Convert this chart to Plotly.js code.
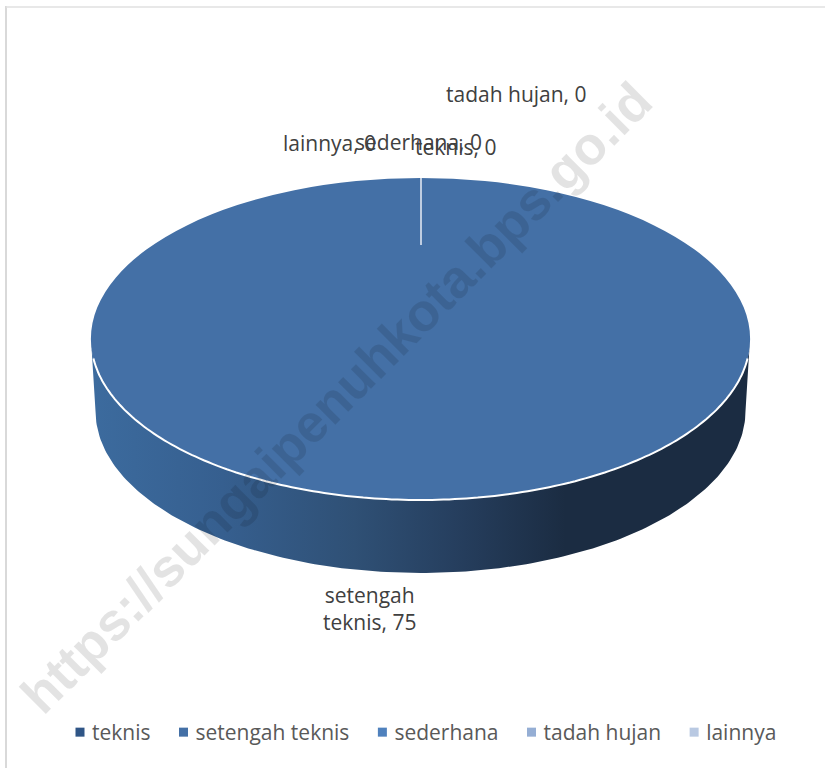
<!DOCTYPE html>
<html><head><meta charset="utf-8">
<script src="https://cdn.plot.ly/plotly-3.0.1.min.js"></script>
<style>html,body{margin:0;padding:0;background:#fff}#c{width:825px;height:768px}</style>
</head><body><div id="c"></div>
<script>
const categories = ['teknis','setengah teknis','sederhana','tadah hujan','lainnya'];
const values = [0,75,0,0,0];
const sliceColors = ['#2f5586','#4470a6','#4f81bd','#95aed4','#b9c9e2'];
const watermark = 'https://sungaipenuhkota.bps.go.id';

// geometry of the tilted disc, in pixels
const W=825,H=768, cx=420.5, cy=339, rx=329.5, ry=161, botCy=411, botRx=325, botRy=162;
const k=ry/rx;

const wallX=[],wallY=[];
for(let i=0;i<=180;i++){const t=i*Math.PI/180;wallX.push(cx+rx*Math.cos(t));wallY.push(cy+ry*Math.sin(t));}
for(let i=180;i>=0;i--){const t=i*Math.PI/180;wallX.push(cx+botRx*Math.cos(t));wallY.push(botCy+botRy*Math.sin(t));}
wallX.push(wallX[0]);wallY.push(wallY[0]);

const wall={type:'scatter',mode:'lines',x:wallX,y:wallY,fill:'toself',line:{width:0,color:'#1b2c42'},
  fillgradient:{type:'horizontal',start:91,stop:750,
    colorscale:[[0,'#3c6b9e'],[0.2,'#365f8f'],[0.4,'#2f5075'],[0.55,'#263f5f'],[0.72,'#1b2c42'],[1,'#1b2c42']]},
  showlegend:false,hoverinfo:'skip'};

const pie={type:'pie',labels:categories,values:values,sort:false,direction:'clockwise',
  marker:{colors:sliceColors,line:{width:0}},textinfo:'none',hoverinfo:'label+value',
  domain:{x:[(cx-rx)/W,(cx+rx)/W],y:[1-(cy+rx)/H,1-(cy-rx)/H]},automargin:false};

const rimPts=[];
for(let d=7;d<=173;d+=1){const t=d*Math.PI/180;rimPts.push((rimPts.length?'L':'M')+(cx+rx*Math.cos(t)).toFixed(1)+','+(cy+ry*Math.sin(t)).toFixed(1));}

const lab=(i)=>categories[i]+', '+values[i];
const ann=(text,x,y,extra)=>Object.assign({xref:'x',yref:'y',x:x,y:y,text:text,showarrow:false,
  font:{family:'Open Sans',size:21,color:'#404040'}},extra||{});

const layout={width:W,height:H,margin:{l:0,r:0,t:0,b:0},paper_bgcolor:'#fff',plot_bgcolor:'rgba(0,0,0,0)',
  xaxis:{visible:false,range:[0,W],fixedrange:true},yaxis:{visible:false,range:[H,0],fixedrange:true},
  legend:{orientation:'h',x:60/W,xanchor:'left',y:1-712/H,yanchor:'top',font:{family:'Open Sans',size:21,color:'#595959'},bgcolor:'rgba(0,0,0,0)'},
  shapes:[
    {type:'line',xref:'x',yref:'y',x0:6,x1:6,y0:6,y1:H,line:{color:'#d9d9d9',width:2},layer:'above'},
    {type:'line',xref:'x',yref:'y',x0:6,x1:W,y0:7,y1:7,line:{color:'#e0e0e0',width:1.5},layer:'above'},
    {type:'path',xref:'x',yref:'y',path:rimPts.join(''),line:{color:'#ffffff',width:2},layer:'above'},
    {type:'line',xref:'x',yref:'y',x0:cx+0.5,x1:cx+0.5,y0:178,y1:245,line:{color:'#e8edf4',width:1.5},layer:'above'}
  ],
  annotations:[
    ann(lab(3),516,94),
    ann(lab(4),329,143),
    ann(lab(2),418,142),
    ann(lab(0),455,147),
    ann('setengah<br>'+lab(1).replace('setengah ',''),369,608),
    {xref:'x',yref:'y',x:336,y:397,text:watermark,showarrow:false,textangle:-45,
     font:{family:'Liberation Sans',size:53,weight:700,color:'rgba(0,0,0,0.11)'}}
  ]};

const gd=document.getElementById('c');
function tilt(){
  const layer=gd.querySelector('.pielayer');
  if(layer)layer.setAttribute('transform','translate(0,'+cy+') scale(1,'+k+') translate(0,'+(-cy)+')');
  gd.querySelectorAll('.legendpoints path').forEach(p=>{p.setAttribute('d','M4.5,4.5H-4.5V-4.5H4.5Z');});
  gd.querySelectorAll('.legendtext').forEach(t=>{t.setAttribute('x','32');});
}
Plotly.newPlot(gd,[wall,pie],layout,{displayModeBar:false,staticPlot:true}).then(()=>{tilt();gd.on('plotly_afterplot',tilt);});
</script></body></html>
